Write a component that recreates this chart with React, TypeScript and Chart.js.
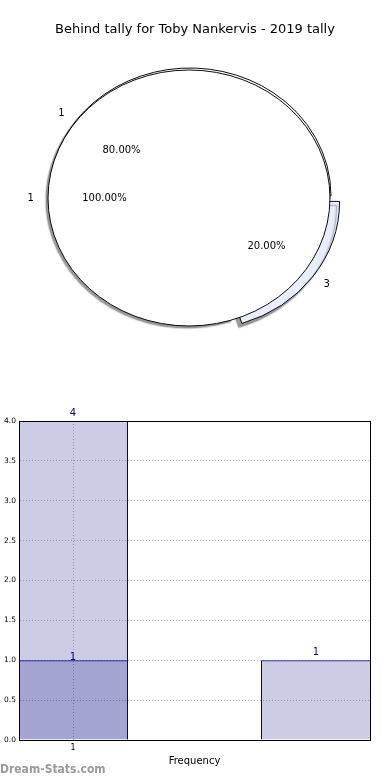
import React, { useEffect, useRef } from 'react';
import { Chart, registerables } from 'chart.js';

Chart.register(...registerables);

const FONT = "'DejaVu Sans', 'Noto Sans', sans-serif";

const chartTitle = 'Behind tally for Toby Nankervis - 2019 tally';

// Pie drawn underneath (two slices, the second one pulled out)
const pieALabels = ['1', '3'];
const pieAValues = [4, 1];
const pieAColors = ['#ffffff', '#e9eefc'];
const pieAOffsets = [0, 40];

// Pie drawn on top (one slice)
const pieBLabels = ['1'];
const pieBValues = [1];
const pieBColors = ['#ffffff'];

// Frequency bars
const barAPositions = [1, 3];
const barACounts = [4, 1];
const barBPositions = [1];
const barBCounts = [1];
const xTickValues = [1];
const yTickStep = 0.5;
const yMax = 4;
const xAxisTitle = 'Frequency';
const watermark = 'Dream-Stats.com';

const PIE_RADIUS = 141;
const PIE_Y_SCALE = 128 / 141;
const BAR_WIDTH_UNITS = 0.8889;
const BAR_DRAW_PERCENT = 110 / 243;

export default function App() {
  const pieARef = useRef<HTMLCanvasElement>(null);
  const pieBRef = useRef<HTMLCanvasElement>(null);
  const barRef = useRef<HTMLCanvasElement>(null);

  useEffect(() => {
    Chart.defaults.font.family = FONT;
    Chart.defaults.color = '#000';

    const ellipse = (shadow: boolean) => ({
      id: 'ellipse',
      beforeDatasetsDraw(chart: any) {
        const arc = chart.getDatasetMeta(0).data[0];
        const ctx = chart.ctx;
        ctx.save();
        ctx.translate(arc.x, arc.y);
        ctx.scale(1, PIE_Y_SCALE);
        ctx.translate(-arc.x, -arc.y);
        if (shadow) {
          ctx.shadowColor = 'rgba(0,0,0,0.4)';
          ctx.shadowOffsetX = -3;
          ctx.shadowOffsetY = 4;
          ctx.shadowBlur = 1.5;
        }
      },
      afterDatasetsDraw(chart: any) {
        chart.ctx.restore();
      },
    });

    const pieA = new Chart(pieARef.current as HTMLCanvasElement, {
      type: 'pie',
      data: {
        labels: pieALabels,
        datasets: [
          {
            data: pieAValues,
            backgroundColor: pieAColors,
            borderColor: '#000',
            borderWidth: 1,
            offset: pieAOffsets,
            clip: false,
          } as any,
        ],
      },
      options: {
        responsive: false,
        animation: false,
        events: [],
        rotation: 162,
        radius: PIE_RADIUS,
        layout: { padding: { top: 43.6, bottom: 11.6, left: 2, right: 12 } },
        plugins: {
          legend: { display: false },
          tooltip: { enabled: false },
          title: { display: false },
        },
      } as any,
      plugins: [ellipse(true)],
    });

    const pieLabels = {
      id: 'pieLabels',
      afterDraw(chart: any) {
        const ctx = chart.ctx;
        const groups = [
          { c: pieA as any, labels: pieALabels, values: pieAValues },
          { c: chart, labels: pieBLabels, values: pieBValues },
        ];
        ctx.save();
        ctx.font = `10px ${FONT}`;
        ctx.fillStyle = '#000';
        ctx.textBaseline = 'middle';
        groups.forEach((g) => {
          const total = g.values.reduce((a, b) => a + b, 0);
          const meta = g.c.getDatasetMeta(0);
          meta.data.forEach((arc: any, i: number) => {
            const mid = (arc.startAngle + arc.endAngle) / 2;
            const shift = (arc.options.offset || 0) / 4;
            const at = (k: number) => {
              const r = shift + k * arc.outerRadius;
              return {
                x: arc.x + Math.cos(mid) * r,
                y: arc.y + Math.sin(mid) * r * PIE_Y_SCALE,
              };
            };
            const lp = at(1.1);
            ctx.textAlign = Math.cos(mid) < 0 ? 'right' : 'left';
            ctx.fillText(g.labels[i], lp.x, lp.y);
            const pp = at(0.6);
            ctx.textAlign = 'center';
            ctx.fillText(((g.values[i] / total) * 100).toFixed(2) + '%', pp.x, pp.y);
          });
        });
        ctx.restore();
      },
    };

    const arcLength = 2 * Math.PI * PIE_RADIUS;

    const pieB = new Chart(pieBRef.current as HTMLCanvasElement, {
      type: 'pie',
      data: {
        labels: pieBLabels,
        datasets: [
          {
            data: pieBValues,
            backgroundColor: pieBColors,
            borderColor: '#000',
            borderWidth: 1,
            borderDash: [arcLength + 0.3, 2000],
            borderDashOffset: 0,
            clip: false,
          } as any,
        ],
      },
      options: {
        responsive: false,
        animation: false,
        events: [],
        rotation: 90,
        radius: PIE_RADIUS,
        layout: { padding: { top: 0, bottom: 11.6, left: 0, right: 0 } },
        scales: {
          gutter: {
            type: 'linear',
            position: 'right',
            display: true,
            ticks: { display: false },
            grid: { display: false },
            border: { display: false },
            afterFit: (s: any) => {
              s.width = 12;
            },
          },
        },
        plugins: {
          legend: { display: false },
          tooltip: { enabled: false },
          title: {
            display: true,
            text: chartTitle,
            color: '#000',
            font: { size: 13, weight: 'normal', family: FONT },
            padding: { top: 22, bottom: 10 },
          },
        },
      } as any,
      plugins: [ellipse(false), pieLabels],
    });

    const barLabels = {
      id: 'barLabels',
      afterDatasetsDraw(chart: any) {
        const ctx = chart.ctx;
        ctx.save();
        ctx.font = `10px ${FONT}`;
        ctx.fillStyle = '#000080';
        ctx.textAlign = 'center';
        chart.data.datasets.forEach((ds: any, di: number) => {
          const meta = chart.getDatasetMeta(di);
          meta.data.forEach((bar: any, i: number) => {
            ctx.textBaseline = di === 0 ? 'bottom' : 'middle';
            ctx.fillText(String(ds.data[i].y), bar.x, bar.y - 3);
          });
        });
        ctx.restore();
      },
    };

    const frame = {
      id: 'frame',
      afterDraw(chart: any) {
        const { left, top, right, bottom } = chart.chartArea;
        const ctx = chart.ctx;
        ctx.save();
        ctx.strokeStyle = '#000';
        ctx.lineWidth = 1;
        ctx.setLineDash([]);
        ctx.strokeRect(
          Math.round(left) + 0.5,
          Math.round(top) + 0.5,
          Math.round(right) - Math.round(left),
          Math.round(bottom) - Math.round(top)
        );
        ctx.restore();
      },
    };

    const gridStyle = { color: 'rgba(0,0,0,0.3)', lineWidth: 1, drawTicks: false, offset: false };
    const borderStyle = { display: true, color: '#000', width: 1, dash: [1, 2] };

    const barDataset = (xs: number[], ys: number[]) => ({
      data: xs.map((x, i) => ({ x, y: ys[i] })),
      backgroundColor: 'rgba(0,0,128,0.2)',
      borderColor: '#000080',
      borderWidth: 1,
      borderSkipped: 'start',
      grouped: false,
      categoryPercentage: 1,
      barPercentage: BAR_DRAW_PERCENT,
    });

    const bar = new Chart(barRef.current as HTMLCanvasElement, {
      type: 'bar',
      data: {
        datasets: [
          barDataset(barAPositions, barACounts) as any,
          barDataset(barBPositions, barBCounts) as any,
        ],
      },
      options: {
        responsive: false,
        animation: false,
        events: [],
        layout: { padding: { top: 41, right: 20, left: 0, bottom: 0 } },
        plugins: { legend: { display: false }, tooltip: { enabled: false } },
        scales: {
          x: {
            type: 'linear',
            offset: false,
            min: barAPositions[0] - BAR_WIDTH_UNITS / 2,
            max: barAPositions[barAPositions.length - 1] + BAR_WIDTH_UNITS / 2,
            afterBuildTicks: (s: any) => {
              s.ticks = xTickValues.map((v) => ({ value: v }));
            },
            afterFit: (s: any) => {
              s.height = 40;
            },
            ticks: { font: { size: 8 }, color: '#000', padding: 3 },
            grid: gridStyle,
            border: borderStyle,
            title: {
              display: true,
              text: xAxisTitle,
              color: '#000',
              font: { size: 10 },
              padding: { top: 0, bottom: 13 },
            },
          },
          y: {
            type: 'linear',
            min: 0,
            max: yMax,
            afterFit: (s: any) => {
              s.width = 19;
            },
            ticks: {
              stepSize: yTickStep,
              callback: (v: any) => Number(v).toFixed(1),
              font: { size: 7.5 },
              color: '#000',
              padding: 3,
            },
            grid: gridStyle,
            border: borderStyle,
          },
        },
      } as any,
      plugins: [barLabels, frame],
    });

    return () => {
      pieB.destroy();
      pieA.destroy();
      bar.destroy();
    };
  }, []);

  return (
    <div
      style={{
        position: 'absolute',
        left: 0,
        top: 0,
        width: 390,
        height: 780,
        background: '#fff',
        overflow: 'hidden',
      }}
    >
      <canvas
        ref={pieARef}
        width={390}
        height={360}
        style={{ position: 'absolute', left: 0, top: 0, width: 390, height: 360, zIndex: 1 }}
      />
      <canvas
        ref={pieBRef}
        width={390}
        height={360}
        style={{ position: 'absolute', left: 0, top: 0, width: 390, height: 360, zIndex: 2 }}
      />
      <canvas
        ref={barRef}
        width={390}
        height={400}
        style={{ position: 'absolute', left: 0, top: 380, width: 390, height: 400 }}
      />
      <div
        style={{
          position: 'absolute',
          left: 0,
          top: 762,
          fontFamily: "'DejaVu Sans Condensed', 'DejaVu Sans', sans-serif",
          fontStretch: 'condensed',
          fontWeight: 'bold',
          fontSize: 12,
          lineHeight: '15px',
          color: '#9a9a9a',
          whiteSpace: 'nowrap',
          zIndex: 3,
        }}
      >
        {watermark}
      </div>
    </div>
  );
}
